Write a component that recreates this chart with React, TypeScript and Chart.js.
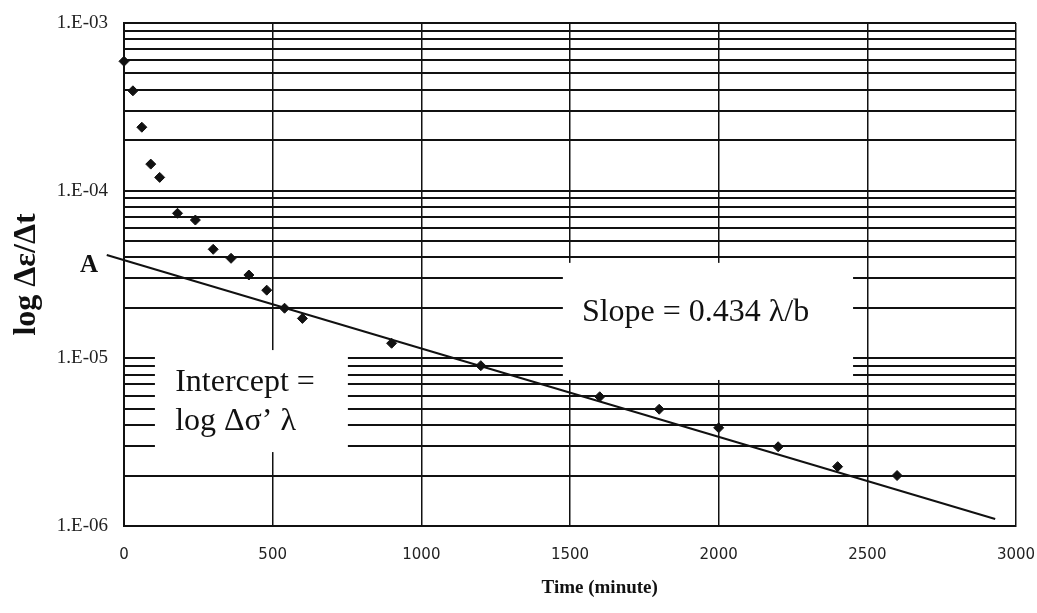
import React, { useEffect, useRef } from 'react';
import { Chart, registerables } from 'chart.js';

Chart.register(...registerables);

// ---- data ----
const timeMinutes = [0, 30, 60, 90, 120, 180, 240, 300, 360, 420, 480, 540, 600, 900, 1200, 1600, 1800, 2000, 2200, 2400, 2600];
const strainRate = [5.91e-4, 3.94e-4, 2.39e-4, 1.44e-4, 1.2e-4, 7.33e-5, 6.68e-5, 4.47e-5, 3.95e-5, 3.14e-5, 2.55e-5, 1.99e-5, 1.73e-5, 1.23e-5, 9.04e-6, 5.9e-6, 4.97e-6, 3.85e-6, 2.97e-6, 2.26e-6, 2.0e-6];
const trendTime = [-58, 2930];
const trendRate = [4.13e-5, 1.1e-6];

const xTickValues = [0, 500, 1000, 1500, 2000, 2500, 3000];
const yDecades = [1e-6, 1e-5, 1e-4, 1e-3];
const yTickLabels = ['1.E-06', '1.E-05', '1.E-04', '1.E-03'];
const yMinorSteps = [1, 2, 3, 4, 5, 6, 7, 8, 9];

const xTitle = 'Time (minute)';
const yTitle = 'log \u0394\u03b5/\u0394t';
const slopeText = 'Slope = 0.434 \u03bb/b';
const interceptLines = ['Intercept =', 'log \u0394\u03c3\u2019 \u03bb'];
const pointLabel = 'A';

const SERIF = "'Liberation Serif', 'Times New Roman', serif";
const SANS = "'DejaVu Sans', sans-serif";
const INK = '#111';

// annotation boxes (data coordinates)
const whiteBoxes = [
  { x0: 1476, x1: 2452, yTop: 3.71e-5, yBottom: 7.43e-6 },
  { x0: 104, x1: 753, yTop: 1.12e-5, yBottom: 2.76e-6 },
];

const yGridValues: number[] = [];
yDecades.slice(0, 3).forEach((d) => yMinorSteps.forEach((s) => yGridValues.push(s * d)));
yGridValues.push(yDecades[3]);

const notesPlugin = {
  id: 'notes',
  beforeDatasetsDraw(chart: any) {
    const { ctx } = chart;
    const x = chart.scales.x;
    const y = chart.scales.y;
    ctx.save();
    ctx.fillStyle = '#fff';
    whiteBoxes.forEach((b) => {
      const l = x.getPixelForValue(b.x0);
      const r = x.getPixelForValue(b.x1);
      const t = y.getPixelForValue(b.yTop);
      const bt = y.getPixelForValue(b.yBottom);
      ctx.fillRect(l, t, r - l, bt - t);
    });
    ctx.fillStyle = INK;
    ctx.textAlign = 'left';
    ctx.textBaseline = 'alphabetic';
    ctx.font = `32px ${SERIF}`;
    ctx.fillText(slopeText, x.getPixelForValue(1540), y.getPixelForValue(1.67e-5));
    ctx.fillText(interceptLines[0], x.getPixelForValue(172), y.getPixelForValue(6.38e-6));
    ctx.fillText(interceptLines[1], x.getPixelForValue(172), y.getPixelForValue(3.74e-6));
    ctx.font = `bold 25px ${SERIF}`;
    ctx.textAlign = 'center';
    ctx.fillText(pointLabel, x.getPixelForValue(-118), y.getPixelForValue(3.27e-5));
    // x-axis title
    ctx.font = `bold 19px ${SERIF}`;
    ctx.textAlign = 'center';
    ctx.fillText(xTitle, x.getPixelForValue(1600), x.bottom - 20);
    ctx.restore();
  },
};

export default function App() {
  const canvasRef = useRef<HTMLCanvasElement | null>(null);

  useEffect(() => {
    const canvas = canvasRef.current;
    if (!canvas) return;
    const chart = new Chart(canvas, {
      type: 'scatter',
      data: {
        datasets: [
          {
            label: 'data',
            data: timeMinutes.map((t, i) => ({ x: t, y: strainRate[i] })),
            pointStyle: 'rectRot',
            pointRadius: 5,
            pointBorderWidth: 1,
            backgroundColor: INK,
            borderColor: INK,
            showLine: false,
            clip: false,
          },
          {
            label: 'trend',
            data: trendTime.map((t, i) => ({ x: t, y: trendRate[i] })),
            showLine: true,
            borderColor: INK,
            borderWidth: 2,
            pointRadius: 0,
            clip: false,
          },
        ],
      },
      options: {
        responsive: false,
        animation: false,
        layout: { padding: { left: 0, top: 23, right: 21, bottom: 0 } },
        plugins: { legend: { display: false }, tooltip: { enabled: false } },
        scales: {
          x: {
            type: 'linear',
            min: 0,
            max: 3000,
            afterBuildTicks: (scale: any) => {
              scale.ticks = xTickValues.map((v) => ({ value: v }));
            },
            afterFit: (scale: any) => {
              scale.height = 87;
              scale.paddingLeft = 0;
              scale.paddingRight = 0;
            },
            ticks: {
              autoSkip: false,
              maxRotation: 0,
              padding: 20,
              color: '#222',
              font: { family: SANS, size: 15 },
              callback: (value: any) => String(value),
            },
            grid: { color: INK, lineWidth: 1.5, drawTicks: false },
            border: { display: true, color: INK, width: 2 },
          },
          y: {
            type: 'logarithmic',
            min: 1e-6,
            max: 1e-3,
            afterBuildTicks: (scale: any) => {
              scale.ticks = yGridValues.map((v) => ({ value: v }));
            },
            afterFit: (scale: any) => {
              scale.width = 124;
              scale.paddingTop = 0;
              scale.paddingBottom = 0;
            },
            ticks: {
              autoSkip: false,
              padding: 16,
              color: '#222',
              font: { family: SERIF, size: 19 },
              callback: (value: any) => {
                const v = Number(value);
                const i = yDecades.findIndex((d) => Math.abs(d - v) / d < 1e-6);
                return i >= 0 ? yTickLabels[i] : '';
              },
            },
            grid: { color: INK, lineWidth: 2, drawTicks: false },
            border: { display: true, color: INK, width: 2 },
            title: {
              display: true,
              text: yTitle,
              color: INK,
              font: { family: SERIF, size: 32, weight: 'bold' },
              padding: { top: 8, bottom: 0 },
            },
          },
        },
      },
      plugins: [notesPlugin],
    } as any);
    return () => chart.destroy();
  }, []);

  return (
    <div style={{ position: 'fixed', left: 0, top: 0, width: 1037, height: 613, background: '#fff' }}>
      <canvas ref={canvasRef} width={1037} height={613} style={{ display: 'block' }} />
    </div>
  );
}
